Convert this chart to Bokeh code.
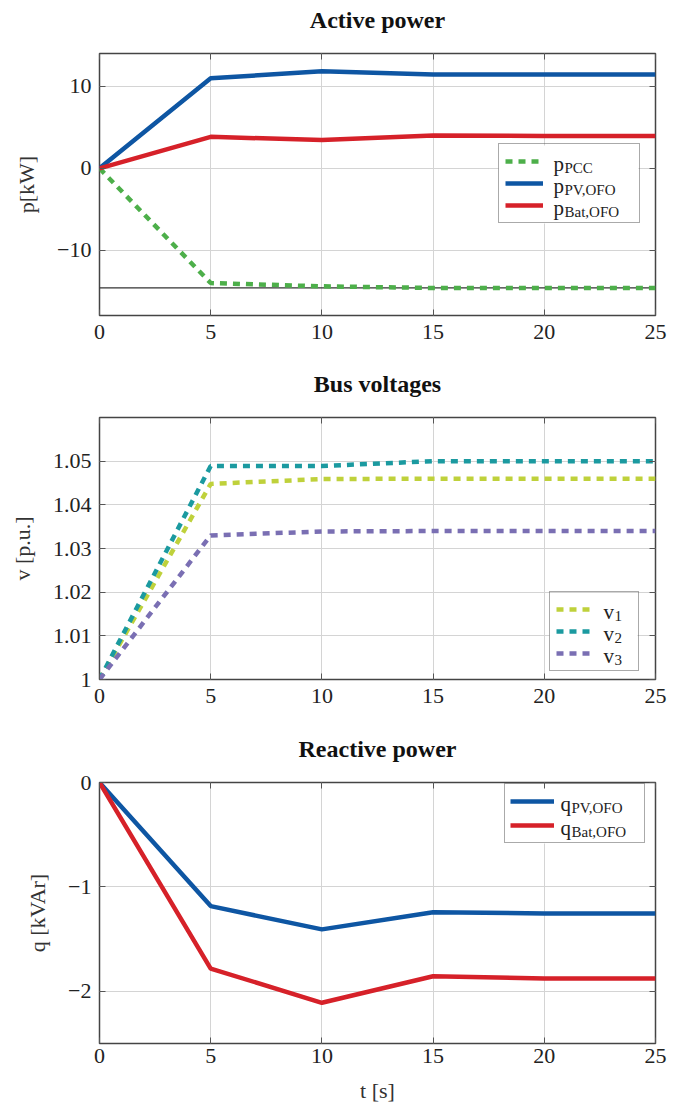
from bokeh.plotting import figure
from bokeh.models import (Legend, LegendItem, Label, LinearAxis, Span,
                          FixedTicker, Range1d, BoxAnnotation)
from bokeh.layouts import column
from bokeh.embed import file_html
from bokeh.resources import INLINE

# ---------------- data ----------------
t = [0, 5, 10, 15, 20, 25]

p_pcc = [0, -14.0, -14.4, -14.6, -14.6, -14.6]
p_pv = [0, 11.0, 11.85, 11.45, 11.45, 11.45]
p_bat = [0, 3.85, 3.45, 4.0, 3.95, 3.95]
p_ref = -14.6

v1 = [1.0, 1.0448, 1.0459, 1.046, 1.046, 1.046]
v2 = [1.0, 1.0489, 1.0489, 1.05, 1.05, 1.05]
v3 = [1.0, 1.033, 1.0339, 1.034, 1.034, 1.034]

q_pv = [0, -1.184, -1.407, -1.242, -1.254, -1.255]
q_bat = [0, -1.782, -2.11, -1.856, -1.878, -1.878]

x_ticks = [0, 5, 10, 15, 20, 25]
x_tick_labels = ["0", "5", "10", "15", "20", "25"]
p_ticks = [-10, 0, 10]
p_tick_labels = ["\u221210", "0", "10"]
v_ticks = [1.0, 1.01, 1.02, 1.03, 1.04, 1.05]
v_tick_labels = ["1", "1.01", "1.02", "1.03", "1.04", "1.05"]
q_ticks = [-2, -1, 0]
q_tick_labels = ["\u22122", "\u22121", "0"]

# ---------------- style ----------------
FONT = "Liberation Serif"
GREEN = "#4daf4a"
BLUE = "#0e56a3"
RED = "#d62129"
C_V1 = "#bfd13b"
C_V2 = "#1b9aa0"
C_V3 = "#7a6fb3"
DASH = "7 6"
LW = 4.5
FRAME_W = 556
BORDER_L = 99
BORDER_R = 24


def make_header(title, h, center_from_top):
    hp = figure(frame_width=FRAME_W, frame_height=h,
                x_range=Range1d(0, 1), y_range=Range1d(0, 1),
                x_axis_type=None, y_axis_type=None,
                output_backend="svg", toolbar_location=None,
                min_border_left=BORDER_L, min_border_right=BORDER_R,
                min_border_top=0, min_border_bottom=0,
                outline_line_color=None,
                background_fill_color="white", border_fill_color="white")
    hp.grid.visible = False
    hp.add_layout(Label(x=FRAME_W / 2, y=h - center_from_top,
                        x_units="screen", y_units="screen",
                        text=title, text_font=FONT, text_font_size="24px",
                        text_font_style="bold", text_color="#111111",
                        text_align="center", text_baseline="middle"))
    return hp


def make_fig(ylabel, yr, yticks, ylabels, frame_h, border_top, border_bottom,
             xlabel=None):
    p = figure(frame_width=FRAME_W, frame_height=frame_h,
               x_range=Range1d(0, 25), y_range=Range1d(*yr),
               output_backend="svg", toolbar_location=None,
               min_border_left=BORDER_L, min_border_right=BORDER_R,
               min_border_top=border_top, min_border_bottom=border_bottom,
               background_fill_color="white", border_fill_color="white")
    p.outline_line_color = "#444444"
    p.outline_line_width = 1.5
    p.outline_line_alpha = 1.0

    for ax, ticks, labels in ((p.xaxis[0], x_ticks, x_tick_labels),
                              (p.yaxis[0], yticks, ylabels)):
        ax.ticker = FixedTicker(ticks=ticks)
        ax.major_label_overrides = {k: v for k, v in zip(ticks, labels)}
        ax.major_label_text_font = FONT
        ax.major_label_text_font_size = "22px"
        ax.major_label_text_color = "#222222"
        ax.axis_line_color = None
        ax.major_tick_in = 6
        ax.major_tick_out = 0
        ax.major_tick_line_color = "#555555"
        ax.minor_tick_line_color = None
        ax.major_label_standoff = 8
        ax.axis_label_text_font = FONT
        ax.axis_label_text_font_size = "22px"
        ax.axis_label_text_font_style = "normal"
        ax.axis_label_text_color = "#333333"
        ax.axis_label_standoff = 15
    p.xaxis[0].major_label_standoff = 9
    p.yaxis[0].axis_label = ylabel
    if xlabel:
        p.xaxis[0].axis_label = xlabel
        p.xaxis[0].major_label_standoff = 5
        p.xaxis[0].axis_label_standoff = 12

    # mirrored (unlabelled) ticks on the right and top
    for loc, ticks in (("right", yticks), ("above", x_ticks)):
        ax = LinearAxis(ticker=FixedTicker(ticks=ticks))
        ax.major_label_overrides = {k: "" for k in ticks}
        ax.major_label_standoff = 0
        ax.axis_line_color = None
        ax.major_tick_in = 6
        ax.major_tick_out = 0
        ax.major_tick_line_color = "#555555"
        ax.minor_tick_line_color = None
        p.add_layout(ax, loc)

    p.xgrid.ticker = FixedTicker(ticks=x_ticks)
    p.ygrid.ticker = FixedTicker(ticks=yticks)
    for g in (p.xgrid[0], p.ygrid[0]):
        g.grid_line_color = "#d4d4d4"
        g.grid_line_width = 1
    return p


def add_legend(p, entries, base, subs, x, y, glyph_w, gap, label_area,
               padding=6, rowh=22):
    """Legend box with line samples; texts (with subscripts) drawn as labels."""
    n = len(entries)
    height = 2 * padding + n * rowh
    width = 2 * padding + glyph_w + label_area
    # opaque white background below the lines, legend itself transparent
    p.add_layout(BoxAnnotation(left=x, right=x + width, bottom=y, top=y + height,
                               left_units="screen", right_units="screen",
                               bottom_units="screen", top_units="screen",
                               fill_color="white", fill_alpha=1.0,
                               line_color=None, level="underlay"))
    items = [LegendItem(label=" ", renderers=[r]) for r in entries]
    leg = Legend(items=items, location=(x, y), orientation="vertical",
                 padding=padding, spacing=0, margin=0,
                 glyph_width=glyph_w, glyph_height=rowh,
                 label_height=1, label_width=label_area, label_standoff=0,
                 label_text_font=FONT, label_text_font_size="1px",
                 border_line_color="#555555", border_line_width=1,
                 background_fill_alpha=0.0)
    p.add_layout(leg, "center")
    top = y + height
    bx = x + padding + glyph_w + gap
    for i, s in enumerate(subs):
        cy = top - padding - rowh / 2 - i * rowh
        p.add_layout(Label(x=bx, y=cy - 1, x_units="screen", y_units="screen",
                           text=base, text_font=FONT, text_font_size="21px",
                           text_color="#222222", text_baseline="alphabetic",
                           text_align="left"))
        p.add_layout(Label(x=bx + 11, y=cy - 5, x_units="screen", y_units="screen",
                           text=s, text_font=FONT, text_font_size="15px",
                           text_color="#222222", text_baseline="alphabetic",
                           text_align="left"))


# ---------------- panel 1 ----------------
h1 = make_header("Active power", 37, 19)
f1 = make_fig("p[kW]", (-17.96, 14.02), p_ticks, p_tick_labels, 262, 16, 40)
f1.add_layout(Span(location=p_ref, dimension="width", line_color="#333333",
                   line_width=1.2, level="underlay"))
r_pcc = f1.line(t, p_pcc, line_color=GREEN, line_width=LW, line_dash=DASH)
r_ppv = f1.line(t, p_pv, line_color=BLUE, line_width=LW)
r_pbat = f1.line(t, p_bat, line_color=RED, line_width=LW)
add_legend(f1, [r_pcc, r_ppv, r_pbat], "p", ["PCC", "PV,OFO", "Bat,OFO"],
           399, 92, 38, 11, 90)

# ---------------- panel 2 ----------------
h2 = make_header("Bus voltages", 46, 28)
f2 = make_fig("v [p.u.]", (1.0, 1.06), v_ticks, v_tick_labels, 262, 16, 41)
r_v1 = f2.line(t, v1, line_color=C_V1, line_width=LW, line_dash=DASH)
r_v2 = f2.line(t, v2, line_color=C_V2, line_width=LW, line_dash=DASH)
r_v3 = f2.line(t, v3, line_color=C_V3, line_width=LW, line_dash=DASH)
add_legend(f2, [r_v1, r_v2, r_v3], "v", ["1", "2", "3"], 450, 8, 38, 10, 38)

# ---------------- panel 3 ----------------
h3 = make_header("Reactive power", 46, 28)
f3 = make_fig("q [kVAr]", (-2.5, 0.0), q_ticks, q_tick_labels, 261, 16, 59,
              xlabel="t [s]")
r_qpv = f3.line(t, q_pv, line_color=BLUE, line_width=LW)
r_qbat = f3.line(t, q_bat, line_color=RED, line_width=LW)
add_legend(f3, [r_qpv, r_qbat], "q", ["PV,OFO", "Bat,OFO"], 405, 200, 44, 7, 85,
           padding=5, rowh=24)

layout = column(h1, f1, h2, f2, h3, f3, spacing=0)
open("out.html", "w").write(file_html(layout, INLINE))
